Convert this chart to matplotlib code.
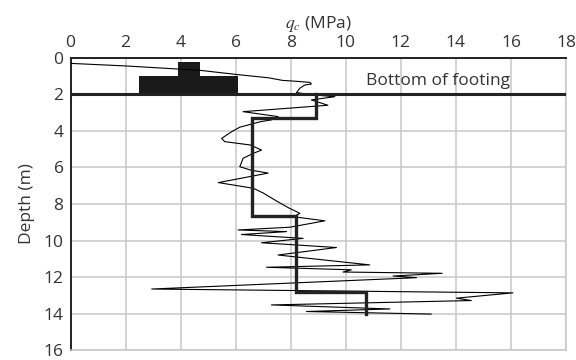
import matplotlib
matplotlib.use("Agg")
import matplotlib.pyplot as plt

plt.rcParams['font.family'] = ['Open Sans', 'DejaVu Sans']
plt.rcParams['mathtext.fontset'] = 'stix'

# cone resistance trace (qc in MPa, depth in m)
qc = [0, 2.0, 4.7, 6.05, 7.2, 7.7, 8.3, 8.7, 8.75, 8.5, 8.33, 8.21,
      8.87, 9.6, 8.75, 9.35, 6.27, 7.54, 7.3, 6.9, 6.15, 5.85, 5.49, 5.6,
      6.52, 6.94, 6.64, 6.27, 6.15, 6.55, 7.18, 5.37, 6.64, 7.0, 7.5,
      7.91, 8.33, 8.1, 9.24, 7.97, 6.09, 7.85, 6.21, 8.45, 6.94, 9.66,
      7.54, 10.87, 7.12, 10.2, 9.9, 13.5, 11.72, 12.57, 2.95, 16.07,
      14.02, 14.56, 7.3, 11.6, 8.57, 13.1]
depth = [0.31, 0.45, 0.69, 0.92, 1.1, 1.24, 1.3, 1.35, 1.44, 1.5, 1.67, 1.91,
         2.04, 2.13, 2.31, 2.6, 2.95, 3.22, 3.4, 3.5, 3.8, 4.05, 4.41, 4.59,
         4.77, 5.05, 5.23, 5.5, 5.96, 6.15, 6.31, 6.83, 7.14, 7.4, 7.85,
         8.2, 8.51, 8.7, 8.92, 9.27, 9.42, 9.51, 9.67, 9.88, 10.12, 10.38,
         10.79, 11.33, 11.46, 11.6, 11.72, 11.79, 11.94, 12.03, 12.65, 12.86,
         13.15, 13.28, 13.52, 13.74, 13.88, 14.02]

# idealised design profile
prof_qc = [8.9, 8.9, 6.6, 6.6, 8.2, 8.2, 10.75, 10.75]
prof_z = [2.0, 3.3, 3.3, 8.65, 8.65, 12.8, 12.8, 14.0]

# footing outline
foot_x = [3.9, 4.7, 4.7, 6.1, 6.1, 2.5, 2.5, 3.9]
foot_z = [0.25, 0.25, 1.0, 1.0, 2.0, 2.0, 1.0, 1.0]
footing_depth = 2.0

xticks = list(range(0, 19, 2))
yticks = list(range(0, 17, 2))

gridc = '#c8c8c8'
textc = '#333333'
fs = 12.5

fig = plt.figure(figsize=(5.76, 3.6), dpi=100)
ax = fig.add_axes([0.1224, 0.027, 0.8603, 0.8127])

ax.fill(foot_x, foot_z, color='#1a1a1a', lw=0, zorder=3)
ax.plot(qc, depth, color='black', lw=0.8, zorder=4)
ax.plot(prof_qc, prof_z, color='#222222', lw=2.4, zorder=5,
        solid_joinstyle='miter')
ax.axhline(footing_depth, color='#222222', lw=2.2, zorder=5)
ax.text(10.75, 1.3, 'Bottom of footing', fontsize=fs, color=textc,
        va='center', ha='left')

ax.set_xlim(0, 18)
ax.set_ylim(16, 0)
ax.set_xticks(xticks)
ax.set_yticks(yticks)
ax.xaxis.tick_top()
ax.xaxis.set_label_position('top')
ax.tick_params(length=0, labelsize=fs, labelcolor=textc, pad=5)
ax.grid(True, color=gridc, lw=1.1)
ax.set_axisbelow(True)

for s in ['top', 'left']:
    ax.spines[s].set_color('#222222')
    ax.spines[s].set_linewidth(1.4)
for s in ['bottom', 'right']:
    ax.spines[s].set_color(gridc)
    ax.spines[s].set_linewidth(1.1)

ax.set_xlabel(r'$q_c$ (MPa)', fontsize=fs, color=textc, labelpad=5)
ax.set_ylabel('Depth (m)', fontsize=fs, color=textc, labelpad=6)

fig.savefig('out.png', dpi=100)
